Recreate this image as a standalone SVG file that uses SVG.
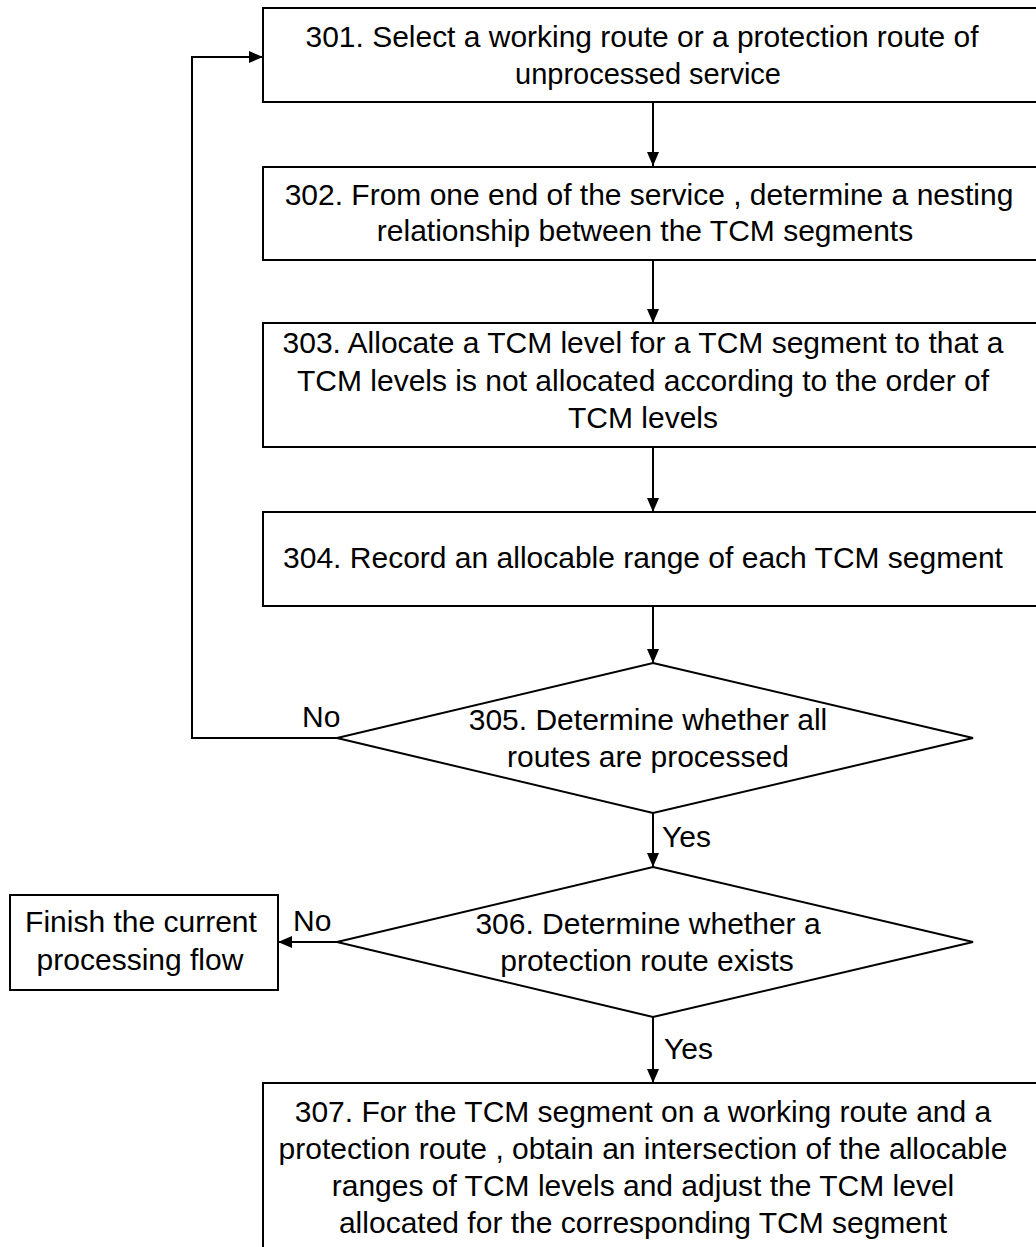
<svg xmlns="http://www.w3.org/2000/svg" width="1036" height="1247" viewBox="0 0 1036 1247">
<style>
.box{fill:#fff;stroke:#000;stroke-width:2}
.t{font-family:"Liberation Sans",Arial,sans-serif;font-size:30px;fill:#000;text-anchor:middle}
.l{font-family:"Liberation Sans",Arial,sans-serif;font-size:30px;fill:#000}
.c{fill:none;stroke:#000;stroke-width:2}
</style>
<defs>
<marker id="ah" viewBox="0 0 14 12" refX="14" refY="6" markerWidth="14" markerHeight="12" markerUnits="userSpaceOnUse" orient="auto">
<path d="M0,0 L14,6 L0,12 Z" fill="#000"/>
</marker>
</defs>
<rect width="1036" height="1247" fill="#fff"/>
<g id="connectors">
<path class="c" d="M653,102 V166" marker-end="url(#ah)"/>
<path class="c" d="M653,260 V323" marker-end="url(#ah)"/>
<path class="c" d="M653,447 V512" marker-end="url(#ah)"/>
<path class="c" d="M653,606 V663" marker-end="url(#ah)"/>
<path class="c" d="M337,738 H192 V57 H263" marker-end="url(#ah)"/>
<path class="c" d="M653,813 V867" marker-end="url(#ah)"/>
<path class="c" d="M337,942 H278" marker-end="url(#ah)"/>
<path class="c" d="M653,1017 V1083" marker-end="url(#ah)"/>
<text class="l" x="302" y="727">No</text>
<text class="l" x="662" y="847">Yes</text>
<text class="l" x="293" y="931">No</text>
<text class="l" x="664" y="1059">Yes</text>
</g>
<g id="n301">
<rect class="box" x="263" y="8" width="790" height="94"/>
<text class="t" x="642" y="47" textLength="673" lengthAdjust="spacingAndGlyphs">301. Select a working route or a protection route of</text>
<text class="t" x="648" y="84" style="font-size:29px">unprocessed service</text>
</g>
<g id="n302">
<rect class="box" x="263" y="167" width="790" height="93"/>
<text class="t" x="649" y="205">302. From one end of the service  , determine a nesting</text>
<text class="t" x="645" y="241">relationship between the TCM segments</text>
</g>
<g id="n303">
<rect class="box" x="263" y="323" width="790" height="124"/>
<text class="t" x="643" y="353">303. Allocate a TCM level for a TCM segment to that a</text>
<text class="t" x="643" y="391">TCM levels is not allocated according to the order of</text>
<text class="t" x="643" y="428">TCM levels</text>
</g>
<g id="n304">
<rect class="box" x="263" y="512" width="790" height="94"/>
<text class="t" x="643" y="568">304. Record an allocable range of each TCM segment</text>
</g>
<g id="n305">
<polygon class="box" points="653,663 973,738 653,813 337,738"/>
<text class="t" x="648" y="730">305. Determine whether all</text>
<text class="t" x="648" y="767">routes are processed</text>
</g>
<g id="n306">
<polygon class="box" points="653,867 973,942 653,1017 337,942"/>
<text class="t" x="648" y="934">306. Determine whether a</text>
<text class="t" x="647" y="971">protection route exists</text>
</g>
<g id="finish">
<rect class="box" x="10" y="895" width="268" height="95"/>
<text class="t" x="141" y="932">Finish the current</text>
<text class="t" x="140" y="970">processing flow</text>
</g>
<g id="n307">
<rect class="box" x="263" y="1083" width="790" height="180"/>
<text class="t" x="643" y="1122">307. For the TCM segment on a working route and a</text>
<text class="t" x="643" y="1159">protection route , obtain an intersection of the allocable</text>
<text class="t" x="643" y="1196">ranges of TCM levels and adjust the TCM level</text>
<text class="t" x="643" y="1233">allocated for the corresponding TCM segment</text>
</g>
</svg>
